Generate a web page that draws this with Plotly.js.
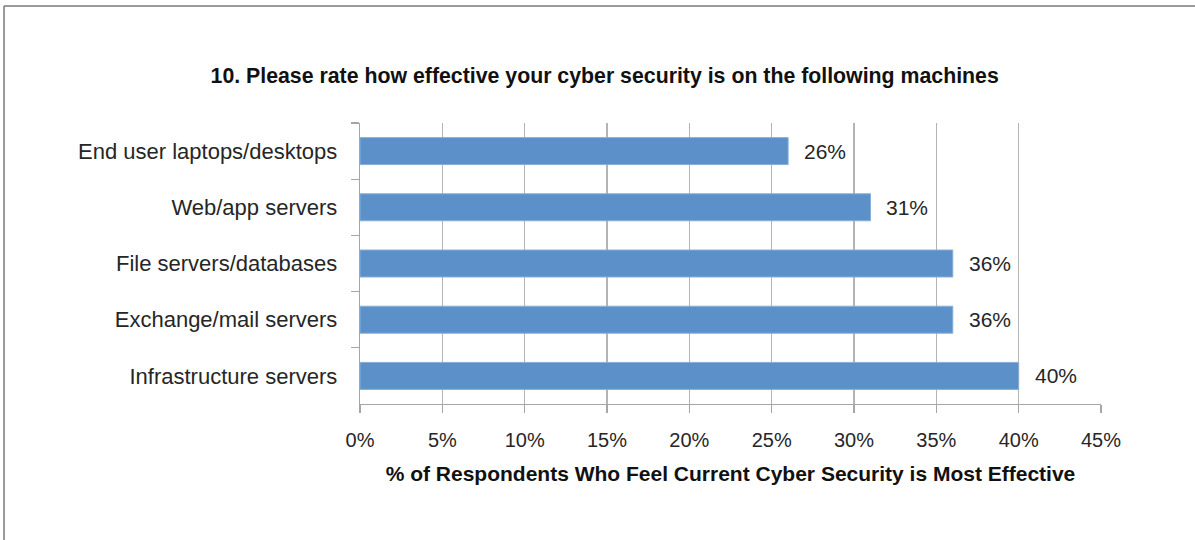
<!DOCTYPE html>
<html>
<head>
<meta charset="utf-8">
<script src="https://cdn.plot.ly/plotly-3.0.1.min.js"></script>
<style>
html,body{margin:0;padding:0;background:#fff;}
#chart{width:1195px;height:540px;}
</style>
</head>
<body>
<div id="chart"></div>
<script>
const categories = ["End user laptops/desktops", "Web/app servers", "File servers/databases", "Exchange/mail servers", "Infrastructure servers"];
const values = [26, 31, 36, 36, 40];
const tickValues = [0, 5, 10, 15, 20, 25, 30, 35, 40, 45];
const tickLabels = ["0%", "5%", "10%", "15%", "20%", "25%", "30%", "35%", "40%", "45%"];
const chartTitle = "10. Please rate how effective your cyber security is on the following machines";
const xTitle = "% of Respondents Who Feel Current Cyber Security is Most Effective";

const FONT = "Liberation Sans, Arial, sans-serif";

const trace = {
  type: "bar",
  orientation: "h",
  x: values,
  y: categories,
  marker: {color: "#5B91C8", line: {color: "#86AEDA", width: 1}},
  hoverinfo: "x+y",
  showlegend: false
};

const annotations = values.map((v, i) => ({
  x: v, y: categories[i], xref: "x", yref: "y",
  text: v + "%", showarrow: false, xanchor: "left", xshift: 14,
  font: {family: FONT, size: 21, color: "#262626"}
}));

const layout = {
  width: 1195, height: 540,
  margin: {l: 360, r: 94, t: 123, b: 136},
  paper_bgcolor: "#fff", plot_bgcolor: "#fff",
  bargap: 0.52,
  title: {
    text: "<b>" + chartTitle + "</b>",
    font: {family: FONT, size: 21.3, color: "#111"},
    x: 0.506, xanchor: "center", xref: "container",
    y: 1 - 75.5/540, yanchor: "middle", yref: "container"
  },
  xaxis: {
    range: [0, 45], tickvals: tickValues, ticktext: tickLabels,
    showgrid: true, gridcolor: "#B4B4B4", gridwidth: 1.3,
    showline: true, linecolor: "#A6A6A6", linewidth: 1.3,
    ticks: "outside", ticklen: 8, tickcolor: "#A6A6A6", tickwidth: 1.3,
    ticklabelstandoff: 10,
    tickfont: {family: FONT, size: 20, color: "#262626"},
    zeroline: false, fixedrange: true,
    title: {text: "<b>" + xTitle + "</b>", font: {family: FONT, size: 21, color: "#111"}, standoff: 16}
  },
  yaxis: {
    autorange: "reversed", type: "category",
    showgrid: false,
    showline: true, linecolor: "#A6A6A6", linewidth: 1.3,
    ticks: "outside", tickson: "boundaries", ticklen: 8, tickcolor: "#A6A6A6", tickwidth: 1.3,
    ticklabelstandoff: 17,
    tickfont: {family: FONT, size: 22, color: "#262626"},
    fixedrange: true
  },
  annotations: annotations,
  shapes: [
    {type: "line", xref: "paper", yref: "paper", x0: -0.4804, x1: 1.127, y0: 1.4164, y1: 1.4164, line: {color: "#7A7A7A", width: 1.5}},
    {type: "line", xref: "paper", yref: "paper", x0: -0.4804, x1: -0.4804, y0: 1.4164, y1: -0.49, line: {color: "#7A7A7A", width: 1.5}}
  ]
};

Plotly.newPlot("chart", [trace], layout, {displayModeBar: false, staticPlot: true});
</script>
</body>
</html>
